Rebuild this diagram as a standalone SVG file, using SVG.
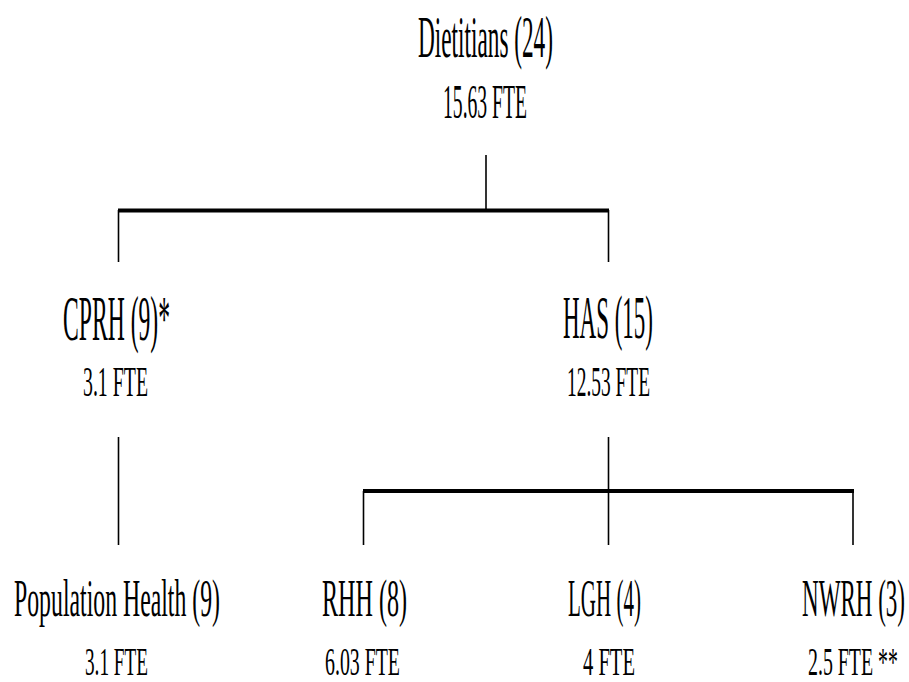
<svg xmlns="http://www.w3.org/2000/svg" width="909" height="682" viewBox="0 0 909 682">
<style>
text{font-family:"Liberation Serif","Times New Roman",serif;fill:#000;text-anchor:middle}
.thin{stroke:#000;stroke-width:1.6;fill:none}
.thick{stroke:#000;stroke-width:4;fill:none}
</style>
<rect width="909" height="682" fill="#fff"/>
<g id="connectors">
<line class="thin" x1="486" y1="155" x2="486" y2="210"/>
<line class="thick" x1="118" y1="210.5" x2="609" y2="210.5"/>
<line class="thin" x1="118.5" y1="210" x2="118.5" y2="262"/>
<line class="thin" x1="608.5" y1="210" x2="608.5" y2="262"/>
<line class="thin" x1="118.5" y1="437" x2="118.5" y2="545"/>
<line class="thin" x1="608.5" y1="437" x2="608.5" y2="545"/>
<line class="thick" x1="363" y1="491" x2="854" y2="491"/>
<line class="thin" x1="363.5" y1="491" x2="363.5" y2="545"/>
<line class="thin" x1="853" y1="491" x2="853" y2="545"/>
</g>
<g id="dietitians">
<text x="485.5" y="57" font-size="59" textLength="135" lengthAdjust="spacingAndGlyphs">Dietitians (24)</text>
<text x="485" y="118" font-size="48" textLength="84" lengthAdjust="spacingAndGlyphs">15.63 FTE</text>
</g>
<g id="cprh">
<text x="116.5" y="340" font-size="63" textLength="107" lengthAdjust="spacingAndGlyphs">CPRH (9)*</text>
<text x="115.5" y="396" font-size="42" textLength="65" lengthAdjust="spacingAndGlyphs">3.1 FTE</text>
</g>
<g id="has">
<text x="608" y="338" font-size="62" textLength="90" lengthAdjust="spacingAndGlyphs">HAS (15)</text>
<text x="608.5" y="396" font-size="42" textLength="83" lengthAdjust="spacingAndGlyphs">12.53 FTE</text>
</g>
<g id="population-health">
<text x="117" y="616" font-size="52" textLength="206" lengthAdjust="spacingAndGlyphs">Population Health (9)</text>
<text x="116.5" y="675" font-size="41" textLength="63" lengthAdjust="spacingAndGlyphs">3.1 FTE</text>
</g>
<g id="rhh">
<text x="364.5" y="616" font-size="52" textLength="85" lengthAdjust="spacingAndGlyphs">RHH (8)</text>
<text x="362.5" y="675" font-size="41" textLength="75" lengthAdjust="spacingAndGlyphs">6.03 FTE</text>
</g>
<g id="lgh">
<text x="604.5" y="616" font-size="52" textLength="73" lengthAdjust="spacingAndGlyphs">LGH (4)</text>
<text x="609" y="675" font-size="41" textLength="52" lengthAdjust="spacingAndGlyphs">4 FTE</text>
</g>
<g id="nwrh">
<text x="853.5" y="616" font-size="52" textLength="103" lengthAdjust="spacingAndGlyphs">NWRH (3)</text>
<text x="853" y="675" font-size="41" textLength="90" lengthAdjust="spacingAndGlyphs">2.5 FTE **</text>
</g>
</svg>
